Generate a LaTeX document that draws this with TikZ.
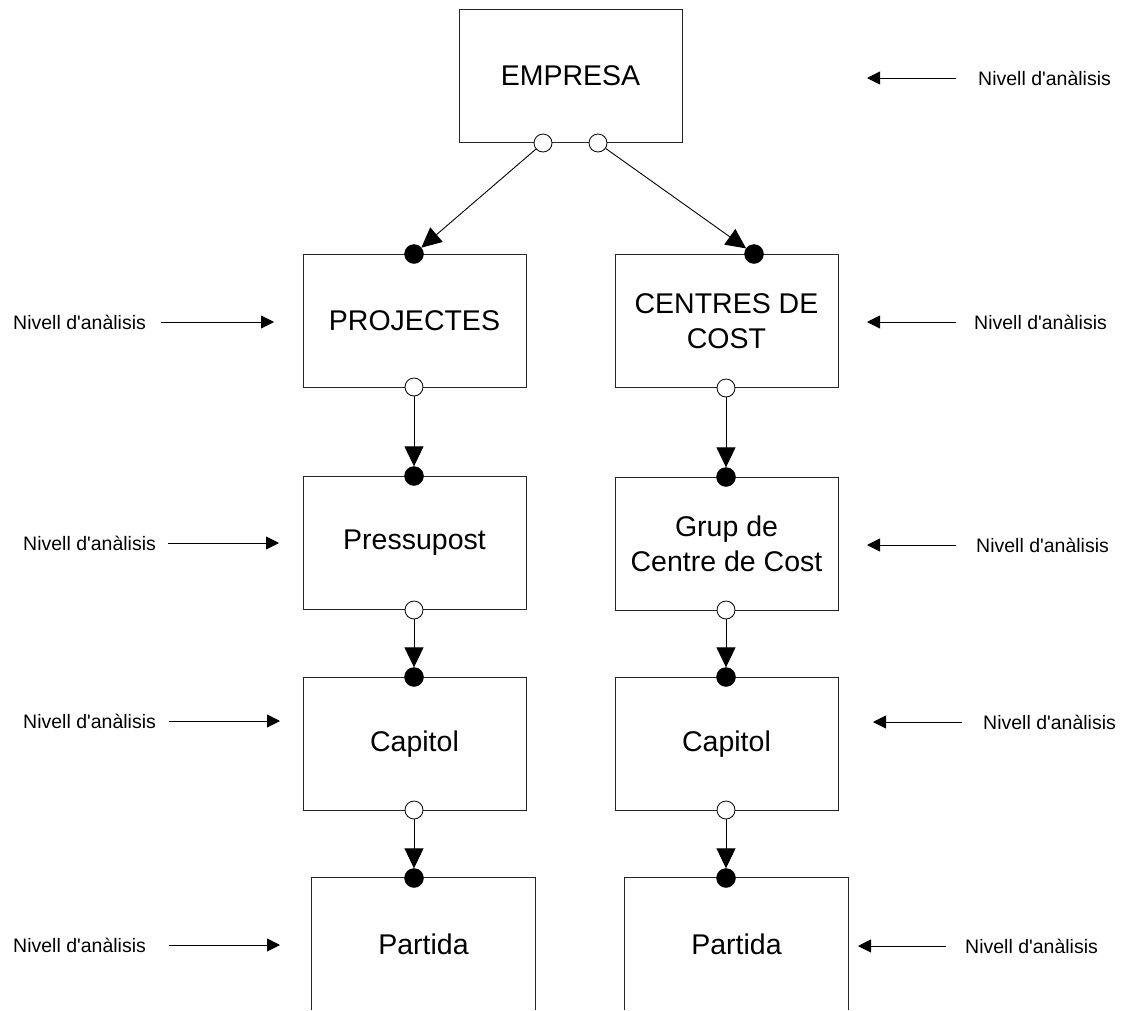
\documentclass[tikz,border=0pt]{standalone}
\usepackage{fontspec}
\setmainfont{Liberation Sans}
\newfontfamily\plainsans{Liberation Sans}
\usetikzlibrary{arrows.meta}
\begin{document}
\begin{tikzpicture}[x=1pt,y=-1pt,
  boxtext/.style={minimum width=223pt, minimum height=133pt, inner sep=0pt, align=center, font=\fontsize{28.5}{35}\selectfont},
  box/.style={boxtext, draw=black!85, line width=0.9pt},
  boxline/.style={draw=black!85, line width=0.9pt},
  opendot/.style={circle, draw=black, fill=white, line width=0.8pt, minimum size=18pt, inner sep=0pt},
  filldot/.style={circle, fill=black, draw=black, minimum size=19pt, inner sep=0pt},
  conn/.style={line width=0.9pt, -{Triangle[width=19pt,length=20pt]}},
  lbl/.style={inner sep=0pt, anchor=west, font=\plainsans\fontsize{19.5}{23}\selectfont, text height=14pt, text depth=0pt},
  lblarr/.style={line width=0.9pt, -{Triangle[width=13pt,length=13pt]}},
]
\useasboundingbox (0,0) rectangle (1125,1010);
\fill[white] (0,0) rectangle (1125,1010);

% boxes
\node[box] (emp)  at (570.5,76)  {EMPRESA};
\node[box] (proj) at (414.5,320.5) {PROJECTES};
\node[box] (cc)   at (726.5,321) {CENTRES DE\\COST};
\node[box] (pres) at (414.5,543) {Pressupost};
\node[box] (grup) at (726.5,543.5) {Grup de\\Centre de Cost};
\node[box] (capL) at (414.5,744) {Capitol};
\node[box] (capR) at (726.5,744) {Capitol};
\node[boxtext, minimum height=132pt] (partL) at (423.5,944) {Partida};
\node[boxtext, minimum height=132pt] (partR) at (736.5,944) {Partida};
\draw[boxline] (partL.south west) -- (partL.north west) -- (partL.north east) -- (partL.south east);
\draw[boxline] (partR.south west) -- (partR.north west) -- (partR.north east) -- (partR.south east);

% dots
\node[opendot] (oe1) at (543,143) {};
\node[opendot] (oe2) at (598,143) {};
\node[filldot] (fp)  at (414,254) {};
\node[filldot] (fc)  at (754,254) {};
\node[opendot] (op)  at (414,387) {};
\node[opendot] (oc)  at (726,388) {};
\node[filldot] (fpr) at (414,476) {};
\node[filldot] (fg)  at (726,477) {};
\node[opendot] (opr) at (414,610) {};
\node[opendot] (og)  at (726,610) {};
\node[filldot] (fcl) at (414,677) {};
\node[filldot] (fcr) at (726,677) {};
\node[opendot] (ocl) at (414,810) {};
\node[opendot] (ocr) at (726,810) {};
\node[filldot] (fpl) at (414,878) {};
\node[filldot] (fpr2) at (726,878) {};

% connectors
\draw[conn] (oe1) -- (fp);
\draw[conn] (oe2) -- (fc);
\draw[conn] (op) -- (fpr);
\draw[conn] (oc) -- (fg);
\draw[conn] (opr) -- (fcl);
\draw[conn] (og) -- (fcr);
\draw[conn] (ocl) -- (fpl);
\draw[conn] (ocr) -- (fpr2);

% right labels
\node[lbl] (r0) at (978,78) {Nivell d'anàlisis};
\coordinate (rt0) at (867,78);
\draw[lblarr, shorten <=22pt] (r0) -- (rt0);
\node[lbl] (r1) at (974,322) {Nivell d'anàlisis};
\coordinate (rt1) at (867,322);
\draw[lblarr, shorten <=18pt] (r1) -- (rt1);
\node[lbl] (r2) at (976,545) {Nivell d'anàlisis};
\coordinate (rt2) at (867,545);
\draw[lblarr, shorten <=20pt] (r2) -- (rt2);
\node[lbl] (r3) at (983,722) {Nivell d'anàlisis};
\coordinate (rt3) at (873,722);
\draw[lblarr, shorten <=21pt] (r3) -- (rt3);
\node[lbl] (r4) at (965,946) {Nivell d'anàlisis};
\coordinate (rt4) at (858,946);
\draw[lblarr, shorten <=19pt] (r4) -- (rt4);

% left labels
\node[lbl] (l1) at (13,322) {Nivell d'anàlisis};
\coordinate (lt1) at (274,322);
\draw[lblarr, shorten <=15pt] (l1) -- (lt1);
\node[lbl] (l2) at (23,543) {Nivell d'anàlisis};
\coordinate (lt2) at (279,543);
\draw[lblarr, shorten <=12pt] (l2) -- (lt2);
\node[lbl] (l3) at (23,721) {Nivell d'anàlisis};
\coordinate (lt3) at (280,721);
\draw[lblarr, shorten <=13pt] (l3) -- (lt3);
\node[lbl] (l4) at (13,945) {Nivell d'anàlisis};
\coordinate (lt4) at (280,945);
\draw[lblarr, shorten <=23pt] (l4) -- (lt4);
\end{tikzpicture}
\end{document}
